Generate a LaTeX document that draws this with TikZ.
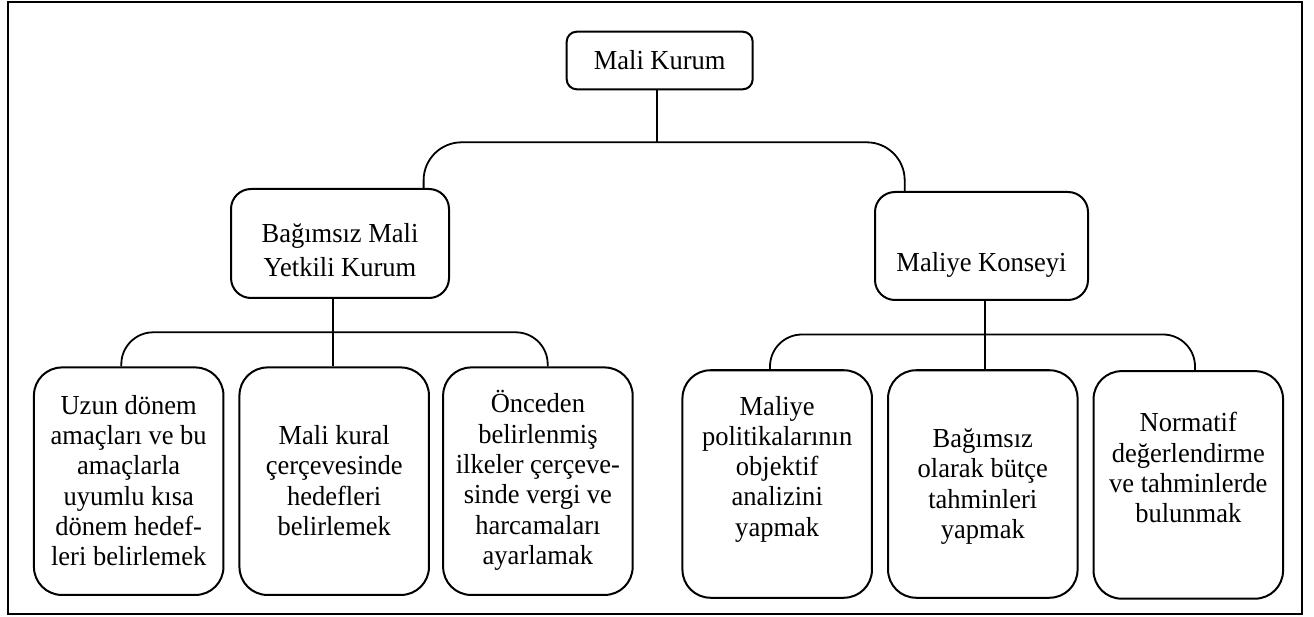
\documentclass[tikz,border=0pt]{standalone}
\usepackage{fontspec}
\setmainfont{Liberation Serif}[FakeStretch=0.964]
\newcommand\boxtext[1]{\rule{0pt}{24.75pt}#1\rule[-6.9pt]{0pt}{6.9pt}}
\tikzset{
  txtfont/.style={font=\fontsize{27.5}{30.3}\selectfont},
  box/.style={draw, line width=2pt, align=center, inner sep=0pt, txtfont},
  lbl/.style={align=center, inner sep=0pt, txtfont},
  leaf/.style={box, rounded corners=28pt, minimum width=189.5pt, minimum height=227.5pt},
  conn/.style={line width=1.8pt},
}
\begin{document}
\begin{tikzpicture}[x=1pt,y=-1pt]
\useasboundingbox (0,0) rectangle (1314,617);
\draw[line width=2pt] (8,2) rectangle (1302,614);

\node[box, rounded corners=10pt, minimum width=186pt, minimum height=57.6pt] (mk) at (659.7,60.5) {\boxtext{Mali Kurum}};
\node[box, rounded corners=20pt, minimum width=218pt, minimum height=109pt,
  label={[lbl,font=\fontsize{27.5}{34}\selectfont,yshift=-6.6pt]center:{\boxtext{Bağımsız Mali\\Yetkili Kurum}}}] (bmy) at (340,243.5) {};
\node[box, rounded corners=20pt, minimum width=213pt, minimum height=108pt,
  label={[lbl,yshift=-16.8pt]center:{\boxtext{Maliye Konseyi}}}] (mkon) at (981.5,246) {};

\node[leaf] (c1) at (128.7,481.2) {\boxtext{Uzun dönem\\amaçları ve bu\\amaçlarla\\uyumlu kısa\\dönem hedef-\\leri belirlemek}};
\node[leaf] (c2) at (334.2,481.2) {\boxtext{Mali kural\\çerçevesinde\\hedefleri\\belirlemek}};
\node[leaf, label={[lbl,yshift=1.5pt]center:{\boxtext{Önceden\\belirlenmiş\\ilkeler çerçeve-\\sinde vergi ve\\harcamaları\\ayarlamak}}}] (c3) at (537.9,481.2) {};
\node[leaf, label={[lbl,yshift=17.3pt]center:{\boxtext{Maliye\\politikalarının\\objektif\\analizini\\yapmak}}}] (c4) at (777.2,484) {};
\node[leaf] (c5) at (982.8,484) {\boxtext{Bağımsız\\olarak bütçe\\tahminleri\\yapmak}};
\node[leaf, label={[lbl,yshift=16.6pt]center:{\boxtext{Normatif\\değerlendirme\\ve tahminlerde\\bulunmak}}}] (c6) at (1188.3,484.9) {};

\coordinate (j1) at (657,142.3);
\draw[conn] (j1 |- mk.south) -- (j1);
\draw[conn, rounded corners=38pt] ([xshift=-26.4pt]bmy.north east) |- (j1) -| ([xshift=30.7pt]mkon.north west);

\coordinate (j2) at (333,332.3);
\draw[conn] (j2 |- bmy.south) -- (j2 |- c2.north);
\draw[conn, rounded corners=32pt] ([xshift=-7.4pt]c1.north) |- (j2) -| ([xshift=9.8pt]c3.north);

\coordinate (j3) at (985,334.5);
\draw[conn] (j3 |- mkon.south) -- (j3 |- c5.north);
\draw[conn, rounded corners=32pt] ([xshift=-7.2pt]c4.north) |- (j3) -| ([xshift=6.7pt]c6.north);
\end{tikzpicture}
\end{document}
